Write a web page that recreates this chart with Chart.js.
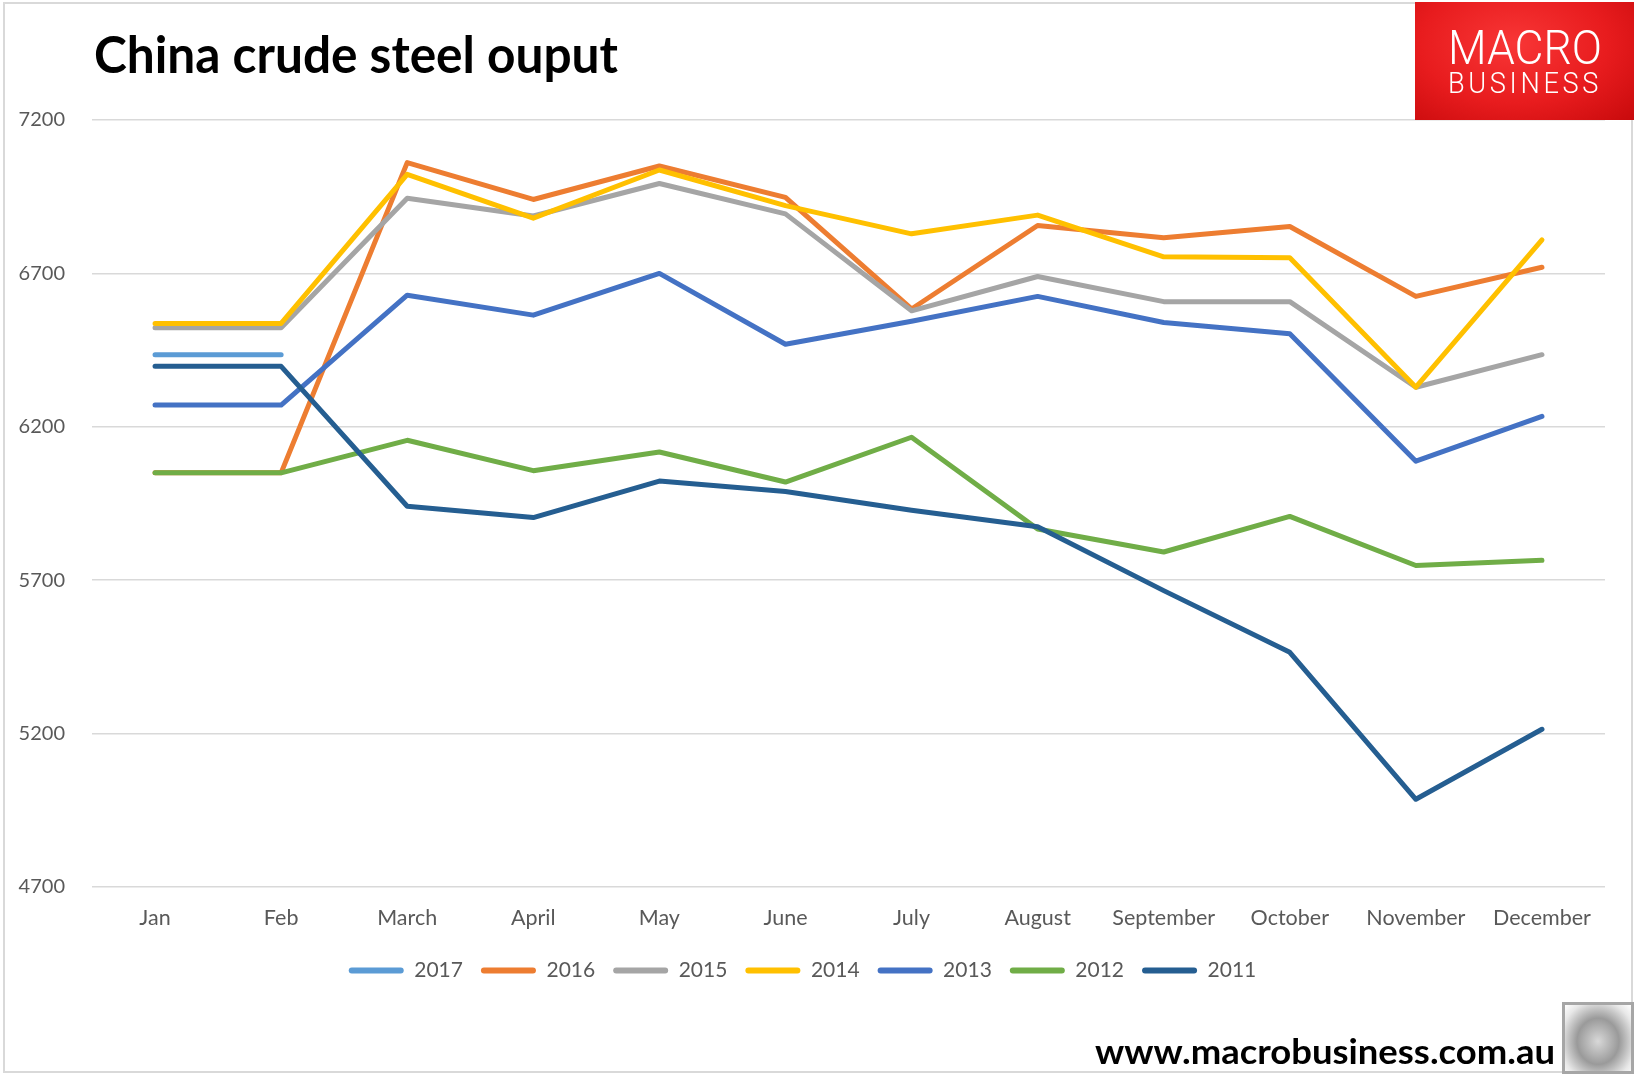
<!DOCTYPE html>
<html><head><meta charset="utf-8">
<script src="https://cdn.jsdelivr.net/npm/chart.js@4"></script>
<style>
html,body{margin:0;padding:0;background:#fff;}
#wrap{position:relative;width:1636px;height:1076px;overflow:hidden;background:#fff;}
#frame{position:absolute;left:3px;top:2px;width:1630px;height:1071px;border:2px solid #D9D9D9;box-sizing:border-box;}
#c{position:absolute;left:0;top:0;}
.txt{position:absolute;white-space:nowrap;transform-origin:0 0;line-height:1;}
#title{left:94px;top:28px;font-family:Lato;font-weight:700;font-size:51px;color:#000;}
#logo{position:absolute;left:1415px;top:2px;width:219px;height:118px;background:radial-gradient(ellipse at 45% 35%, #F83636 0%, #E81C1E 55%, #C80A0C 100%);}
#macro{left:33px;top:22px;font-family:Roboto;font-weight:300;font-size:48px;color:#fff;}
#business{left:33px;top:66px;font-family:Roboto;font-weight:300;font-size:30px;color:#fff;letter-spacing:4px;}
#footer{left:1095px;top:1034px;font-family:Lato;font-weight:700;font-size:34px;color:#000;}
#fox{position:absolute;left:1562px;top:1002px;width:72px;height:72px;border:3px solid #A6A6A6;box-sizing:border-box;background:radial-gradient(ellipse at 50% 55%, #d8d8d8 0%, #9a9a9a 45%, #e8e8e8 80%, #fff 100%);}
</style></head>
<body><div id="wrap">
<div id="frame"></div>
<canvas id="c" width="1636" height="1076"></canvas>
<div id="title" class="txt" data-w="524">China crude steel ouput</div>
<div id="logo"><div id="macro" class="txt" data-w="154">MACRO</div><div id="business" class="txt" data-w="154">BUSINESS</div></div>
<div id="footer" class="txt" data-w="460">www.macrobusiness.com.au</div>
<div id="fox"></div>
</div>
<script>
const months = ['Jan','Feb','March','April','May','June','July','August','September','October','November','December'];
const yTicks = [4700, 5200, 5700, 6200, 6700, 7200];
const s2017 = [6435, 6435, null, null, null, null, null, null, null, null, null, null];
const s2016 = [6050, 6050, 7061, 6941, 7050, 6948, 6584, 6856, 6816, 6853, 6625, 6720];
const s2015 = [6523, 6523, 6945, 6887, 6993, 6894, 6578, 6690, 6608, 6608, 6329, 6435];
const s2014 = [6537, 6537, 7023, 6880, 7037, 6921, 6829, 6890, 6754, 6751, 6329, 6809];
const s2013 = [6271, 6271, 6629, 6564, 6700, 6469, 6544, 6625, 6540, 6503, 6088, 6234];
const s2012 = [6050, 6050, 6156, 6057, 6118, 6020, 6166, 5867, 5792, 5908, 5748, 5765];
const s2011 = [6397, 6397, 5941, 5904, 6023, 5989, 5928, 5874, 5666, 5465, 4986, 5214];

const seriesNames = ['2011','2012','2013','2014','2015','2016','2017'];
const seriesData = [s2011, s2012, s2013, s2014, s2015, s2016, s2017];
const seriesColors = ['#255E91','#70AD47','#4472C4','#FFC000','#A5A5A5','#ED7D31','#5B9BD5'];

const datasets = seriesNames.map((n, i) => ({
  label: n, data: seriesData[i], borderColor: seriesColors[i], backgroundColor: seriesColors[i],
  borderWidth: 5, pointRadius: 0, pointHoverRadius: 0, tension: 0, spanGaps: false,
  borderCapStyle: 'round', borderJoinStyle: 'round', fill: false
}));

new Chart(document.getElementById('c'), {
  type: 'line',
  data: { labels: months, datasets },
  options: {
    responsive: false, animation: false, devicePixelRatio: 1,
    layout: { padding: { left: 0, right: 31, top: 120, bottom: 85 } },
    plugins: {
      tooltip: { enabled: false },
      legend: {
        position: 'bottom', reverse: true,
        labels: {
          font: { family: 'Lato', size: 21 }, color: '#595959',
          boxWidth: 55, boxHeight: 6, padding: 18,
          generateLabels(chart) {
            return chart.data.datasets.map((d, i) => ({
              text: d.label, fillStyle: d.borderColor, strokeStyle: d.borderColor,
              lineWidth: 0, borderRadius: 3, hidden: false, datasetIndex: i, fontColor: '#595959'
            }));
          }
        }
      }
    },
    scales: {
      x: {
        offset: true,
        grid: { display: false, drawTicks: false, offset: true },
        border: { display: false },
        ticks: { font: { family: 'Lato', size: 21.5 }, color: '#595959', padding: 18, maxRotation: 0, autoSkip: false },
        afterFit(s) { s.height = 55; }
      },
      y: {
        min: 4700, max: 7200,
        afterBuildTicks(s) { s.ticks = yTicks.map(v => ({ value: v })); },
        grid: { color: '#D9D9D9', lineWidth: 1.5, drawTicks: false },
        border: { display: false },
        ticks: { font: { family: 'Lato', size: 20 }, color: '#595959', padding: 27, callback: v => String(v) },
        afterFit(s) { s.width = 92; }
      }
    }
  }
});

document.fonts.ready.then(() => {
  document.querySelectorAll('.txt').forEach(el => {
    const w = el.getBoundingClientRect().width;
    const t = parseFloat(el.dataset.w);
    el.style.transform = 'scaleX(' + (t / w) + ')';
  });
});
</script>
</body></html>
